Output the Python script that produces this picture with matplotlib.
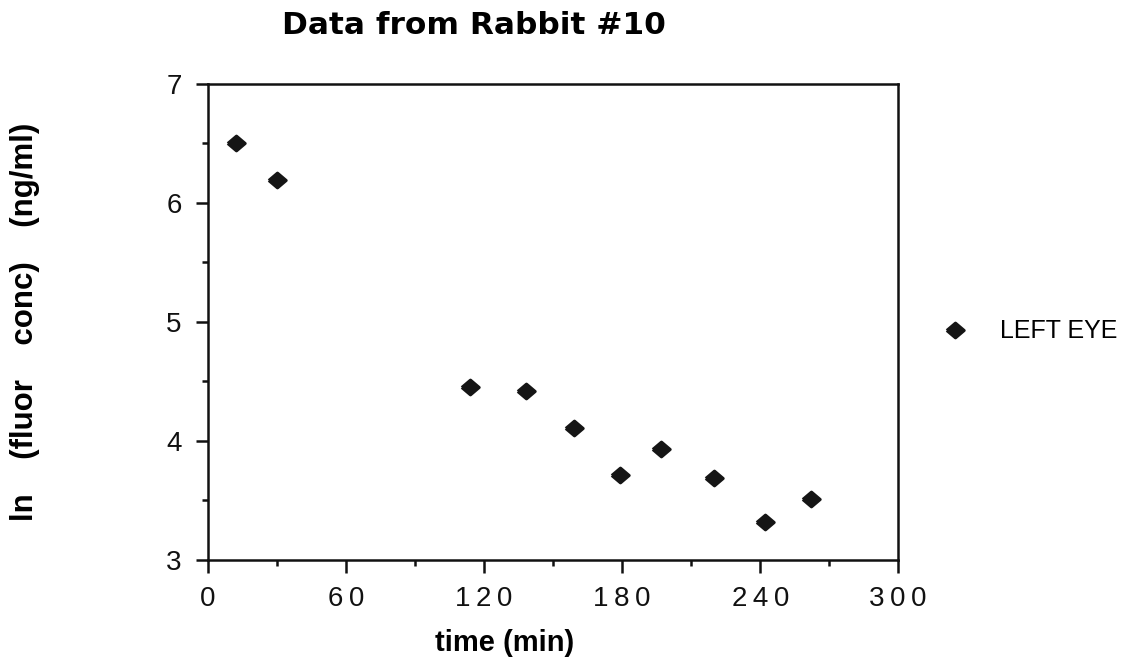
import matplotlib
matplotlib.use('Agg')
import matplotlib.pyplot as plt
from matplotlib.ticker import MultipleLocator

# Data (Rabbit #10, left eye)

time_min = [12, 30, 114, 138, 159, 179, 197, 220, 242, 262]
ln_conc = [6.50, 6.19, 4.45, 4.42, 4.11, 3.71, 3.93, 3.69, 3.32, 3.51]

x_ticks = [0, 60, 120, 180, 240, 300]
y_ticks = [3, 4, 5, 6, 7]

plt.rcParams['font.family'] = ['Liberation Sans', 'DejaVu Sans']

fig = plt.figure(figsize=(11.37, 6.6), dpi=100)
ax = fig.add_axes([0.183, 0.1515, 0.607, 0.7215])

# slightly flattened, rounded diamond
diamond = [(-1.0, 0.0), (0.0, 0.85), (1.0, 0.0), (0.0, -0.85), (-1.0, 0.0)]

ax.plot(time_min, ln_conc, linestyle='none', marker=diamond,
        markersize=12.5, color='#151515', markeredgewidth=2.2,
        markeredgecolor='#151515', label='LEFT EYE')

ax.set_xlim(0, 300)
ax.set_ylim(3, 7)
ax.set_xticks(x_ticks)
ax.set_yticks(y_ticks)
# the original labels are loosely letter-spaced
ax.set_xticklabels(['\u2009'.join(str(t)) for t in x_ticks])
ax.xaxis.set_minor_locator(MultipleLocator(30))
ax.yaxis.set_minor_locator(MultipleLocator(0.5))

for s in ax.spines.values():
    s.set_linewidth(1.8)
    s.set_color('#111111')

ax.tick_params(which='major', direction='out', length=9, width=1.8,
               labelsize=20, colors='#111111')
ax.tick_params(which='minor', direction='out', length=4, width=1.8,
               colors='#111111')
ax.tick_params(axis='x', which='major', pad=10)
ax.tick_params(axis='y', which='major', pad=10)

ax.set_xlabel('time (min)', fontsize=21, fontweight='bold')
ax.xaxis.set_label_coords(0.429, -0.145)
ax.set_ylabel('ln    (fluor    conc)    (ng/ml)', fontsize=22.5,
              fontweight='bold')
ax.yaxis.set_label_coords(-0.243, 0.5)

fig.text(0.417, 0.962, 'Data from Rabbit #10', fontsize=22.5,
         fontweight='bold', family='DejaVu Sans',
         ha='center', va='center')

leg = ax.legend(loc='center left', bbox_to_anchor=(1.031, 0.48),
                frameon=False, handletextpad=1.3, handlelength=1.0,
                prop={'size': 18})

fig.savefig('out.png', dpi=100, facecolor='white')
